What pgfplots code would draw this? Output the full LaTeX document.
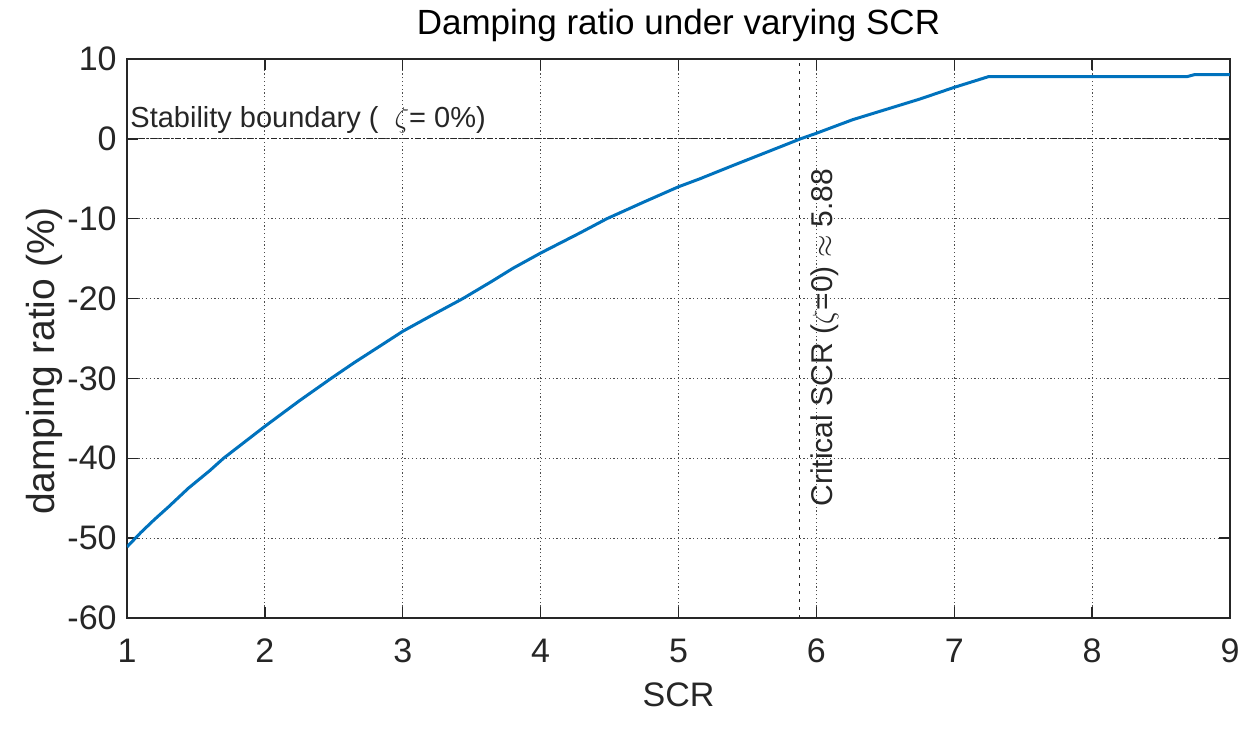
\documentclass[border=0pt]{standalone}
\usepackage{fontspec}
\setmainfont{Liberation Sans}
\usepackage{pgfplots}
\pgfplotsset{compat=1.18}
\definecolor{mblue}{RGB}{0,114,189}
\definecolor{axgray}{RGB}{38,38,38}
\begin{document}
\begin{tikzpicture}
\path[use as bounding box] (0pt,0pt) rectangle (630pt,367.5pt);
\begin{axis}[
  at={(63.5pt,58.5pt)}, anchor=south west,
  scale only axis, width=551.5pt, height=279.5pt,
  xmin=1, xmax=9, ymin=-60, ymax=10,
  xtick={1,2,3,4,5,6,7,8,9}, ytick={-60,-50,-40,-30,-20,-10,0,10},
  xticklabels={1,2,3,4,5,6,7,8,9},
  yticklabels={-60,-50,-40,-30,-20,-10,0,10},
  tick align=inside, major tick length=5.5pt,
  xtick pos=both, ytick pos=both,
  grid=major, grid style={dash pattern=on 0.6pt off 1.3pt, black!70, line width=0.5pt},
  axis line style={axgray, line width=0.7pt},
  every tick/.style={axgray, line width=0.7pt},
  tick label style={font=\fontsize{17}{20}\selectfont, text=axgray, inner sep=0pt},
  xticklabel style={anchor=base, yshift=-22pt},
  yticklabel style={anchor=east, xshift=-5pt},
  title={Damping ratio under varying SCR},
  title style={at={(axis description cs:0.5,1.0215)}, anchor=base, font=\fontsize{17.5}{21}\selectfont, inner sep=0pt, text=black},
  xlabel={SCR},
  xlabel style={at={(axis description cs:0.5,-0.1592)}, anchor=base, font=\fontsize{17}{20}\selectfont, text=axgray, inner sep=0pt},
  ylabel={damping ratio (\%)},
  ylabel style={at={(axis description cs:-0.0653,0.4597)}, anchor=base, font=\fontsize{19.5}{23}\selectfont, text=axgray, inner sep=0pt},
]
\addplot[axgray, line width=0.6pt, dash pattern=on 3pt off 1pt on 1pt off 1pt] coordinates {(1,0) (9,0)};
\addplot[axgray, line width=0.6pt, dash pattern=on 1.5pt off 2.5pt] coordinates {(5.88,-60) (5.88,10)};
\addplot[mblue, line width=1.5pt] coordinates {
(1.00,-51.1) (1.05,-50.2) (1.10,-49.3) (1.20,-47.65) (1.30,-46.1) (1.445,-43.75)
(1.60,-41.55) (1.70,-40.0) (1.85,-38.0) (2.00,-36.0) (2.25,-32.8) (2.48,-30.0)
(2.65,-28.0) (2.83,-26.0) (3.00,-24.1) (3.20,-22.2) (3.436,-20.0) (3.65,-17.8)
(3.80,-16.2) (4.00,-14.3) (4.283,-11.8) (4.48,-10.0) (4.75,-7.9) (5.00,-6.0)
(5.155,-5.0) (5.40,-3.3) (5.65,-1.6) (5.884,0) (6.00,0.7) (6.263,2.4)
(6.546,3.9) (6.753,5.0) (7.00,6.45) (7.139,7.2) (7.25,7.8) (8.69,7.8)
(8.74,8.03) (9.00,8.03)
};
\node[anchor=base west, font=\fontsize{14.5}{17}\selectfont, text=axgray, inner sep=0pt] at (axis cs:1.022,1.45) {Stability boundary (\hspace{8pt}$\zeta$= 0\%)};
\node[rotate=90, anchor=base west, font=\fontsize{15}{18}\selectfont, text=axgray, inner sep=0pt] at (axis cs:6.12,-46.1) {Critical SCR ($\zeta$=0) $\approx$ 5.88};
\end{axis}
\end{tikzpicture}
\end{document}
